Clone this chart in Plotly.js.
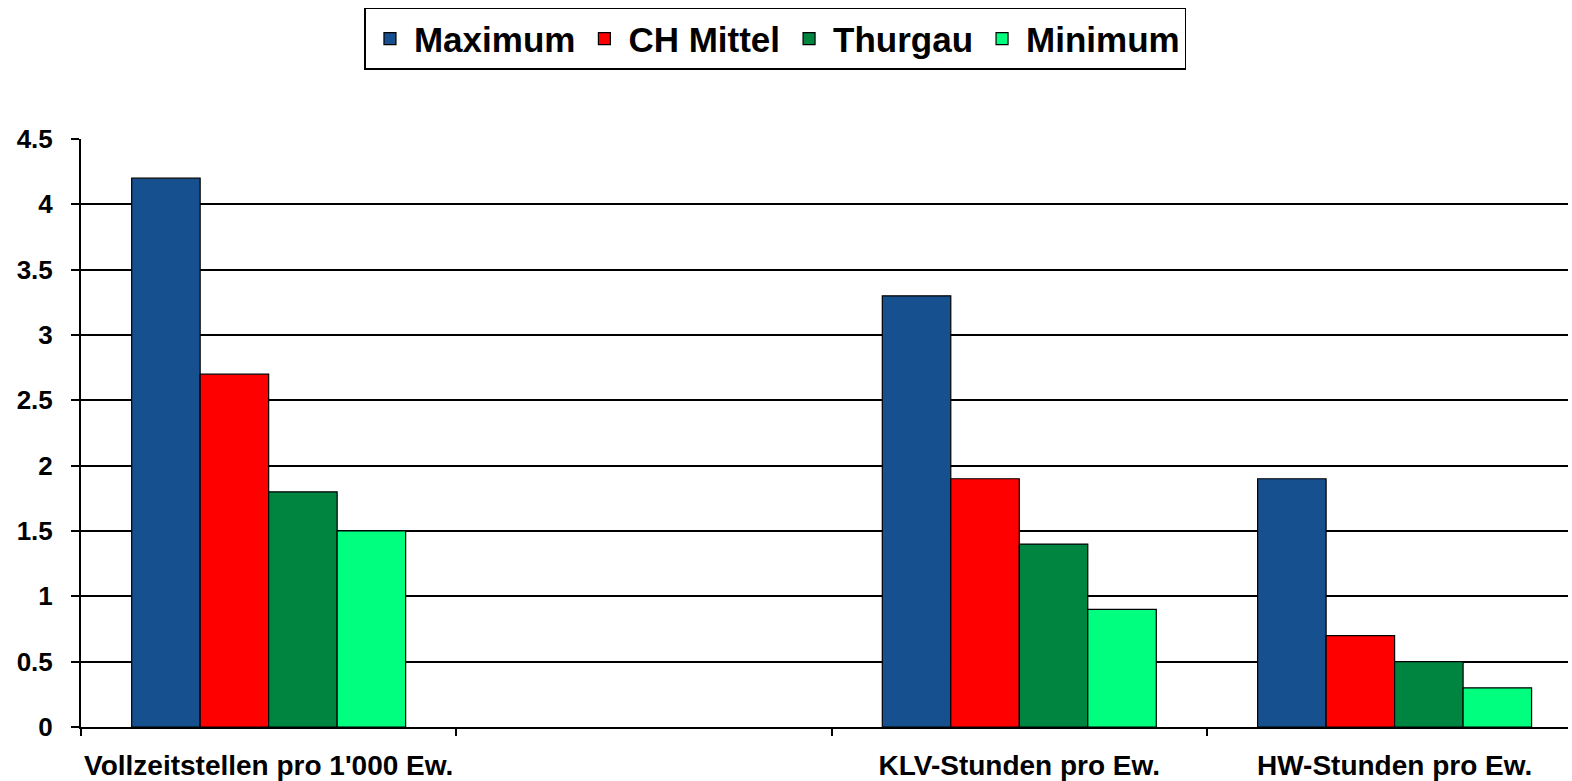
<!DOCTYPE html>
<html>
<head>
<meta charset="utf-8">
<script src="https://cdn.plot.ly/plotly-3.0.1.min.js"></script>
<style>
html,body{margin:0;padding:0;background:#fff;}
#chart{width:1572px;height:781px;}
</style>
</head>
<body>
<div id="chart"></div>
<script>
const categories = ["Vollzeitstellen pro 1'000 Ew.", " ", "KLV-Stunden pro Ew.", "HW-Stunden pro Ew."];
const maximum   = [4.2, null, 3.3, 1.9];
const chMittel  = [2.7, null, 1.9, 0.7];
const thurgau   = [1.8, null, 1.4, 0.5];
const minimum   = [1.5, null, 0.9, 0.3];
const seriesNames = ["Maximum", "CH Mittel", "Thurgau", "Minimum"];
const seriesColors = ["#17508E", "#FF0000", "#008540", "#00FF7F"];
const yTicks = [0, 0.5, 1, 1.5, 2, 2.5, 3, 3.5, 4, 4.5];
const yTickText = ["0", "0.5", "1", "1.5", "2", "2.5", "3", "3.5", "4", "4.5"];

const FONT = "Liberation Sans, Arial, sans-serif";
const allValues = [maximum, chMittel, thurgau, minimum];
const traces = allValues.map((vals, i) => ({
  type: "bar",
  name: seriesNames[i],
  x: categories,
  y: vals,
  marker: {color: seriesColors[i], line: {color: "#000", width: 1.2}},
  hoverinfo: "x+y+name"
}));

const layout = {
  width: 1572,
  height: 781,
  margin: {l: 81, r: 4, t: 139, b: 54},
  paper_bgcolor: "#fff",
  plot_bgcolor: "#fff",
  barmode: "group",
  bargap: 0.27,
  bargroupgap: 0,
  showlegend: true,
  legend: {
    orientation: "h",
    xref: "container",
    yref: "container",
    x: 0.4933,
    xanchor: "center",
    y: 0.99,
    yanchor: "top",
    itemwidth: 38,
    bordercolor: "#000",
    borderwidth: 1.5,
    bgcolor: "#fff",
    font: {family: FONT, size: 35, color: "#000", weight: "bold"},
    traceorder: "normal"
  },
  xaxis: {
    type: "category",
    categoryorder: "array",
    categoryarray: categories,
    range: [-0.5, 3.462],
    tickson: "boundaries",
    tickangle: 0,
    ticks: "outside",
    ticklen: 7,
    tickwidth: 1.5,
    tickcolor: "#000",
    ticklabelstandoff: 12,
    showline: true,
    linecolor: "#000",
    linewidth: 2,
    showgrid: false,
    zeroline: false,
    tickfont: {family: FONT, size: 28, color: "#000", weight: "bold"},
    fixedrange: true
  },
  yaxis: {
    range: [0, 4.5],
    tickmode: "array",
    tickvals: yTicks,
    ticktext: yTickText,
    ticks: "outside",
    ticklen: 8,
    tickwidth: 1.5,
    tickcolor: "#000",
    ticklabelstandoff: 13,
    showline: true,
    linecolor: "#000",
    linewidth: 2,
    showgrid: true,
    gridcolor: "#000",
    gridwidth: 1.5,
    zeroline: false,
    tickfont: {family: FONT, size: 26, color: "#000", weight: "bold"},
    fixedrange: true
  }
};

Plotly.newPlot("chart", traces, layout, {displayModeBar: false, staticPlot: false});
</script>
</body>
</html>
